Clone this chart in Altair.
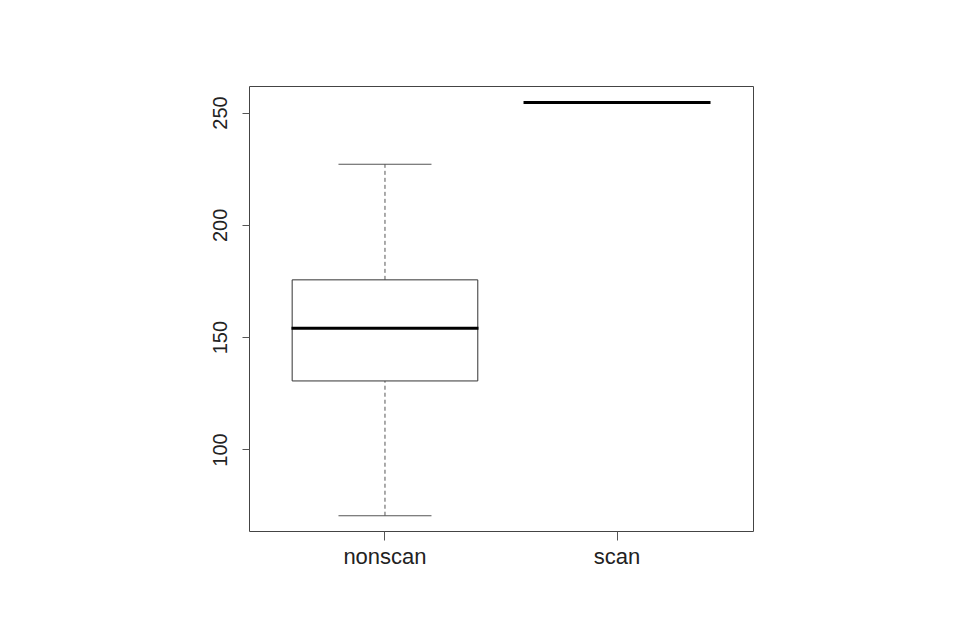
import altair as alt
import pandas as pd

categories = ["nonscan", "scan"]
mins = [70.5, 254.5]
q1s = [130.5, 254.5]
medians = [154.0, 254.5]
q3s = [175.5, 254.5]
maxs = [227.0, 254.5]

df = pd.DataFrame({"group": categories, "lo": mins, "q1": q1s,
                   "med": medians, "q3": q3s, "hi": maxs})

FONT = "Liberation Sans"

x = alt.X("group:N", sort=categories, title=None,
          scale=alt.Scale(paddingInner=0.2, paddingOuter=0.186),
          axis=alt.Axis(labelAngle=0, labelFontSize=22, labelFont=FONT,
                        labelColor="#222", tickColor="#555", tickSize=9,
                        labelPadding=6, domain=False))
yscale = alt.Scale(domain=[63.7, 261.8], nice=False, zero=False)
yaxis = alt.Axis(values=[100, 150, 200, 250], labelAngle=270,
                 labelAlign="center", labelBaseline="bottom",
                 labelFontSize=20, labelFont=FONT, labelColor="#222",
                 tickColor="#555", tickSize=7, labelPadding=12,
                 domain=False, grid=False, title=None)

base = alt.Chart(df)

whisk_hi = base.mark_rule(color="#555", strokeDash=[4, 3], strokeWidth=1).encode(
    x=x, y=alt.Y("q3:Q", scale=yscale, axis=yaxis), y2="hi:Q")
whisk_lo = base.mark_rule(color="#555", strokeDash=[4, 3], strokeWidth=1).encode(
    x=x, y=alt.Y("lo:Q", scale=yscale, axis=yaxis), y2="q1:Q")
box = base.mark_bar(fill="white", stroke="#333", strokeWidth=1, opacity=1).encode(
    x=x, y=alt.Y("q1:Q", scale=yscale, axis=yaxis), y2="q3:Q")
cap_hi = base.mark_tick(color="#555", size=93, thickness=1, orient="horizontal", opacity=1).encode(
    x=x, y=alt.Y("hi:Q", scale=yscale, axis=yaxis))
cap_lo = base.mark_tick(color="#555", size=93, thickness=1, orient="horizontal", opacity=1).encode(
    x=x, y=alt.Y("lo:Q", scale=yscale, axis=yaxis))
median = base.mark_tick(color="#000", size=187, thickness=3, orient="horizontal", opacity=1).encode(
    x=x, y=alt.Y("med:Q", scale=yscale, axis=yaxis))

chart = alt.layer(whisk_hi, whisk_lo, box, cap_hi, cap_lo, median).properties(
    width=504, height=445,
    autosize=alt.AutoSizeParams(type="none"),
    padding={"left": 241, "top": 78, "right": 10, "bottom": 90},
).configure(background="white").configure_view(stroke="#444", strokeWidth=1)

chart.save("out.html", embed_options={"renderer": "svg", "actions": False})
